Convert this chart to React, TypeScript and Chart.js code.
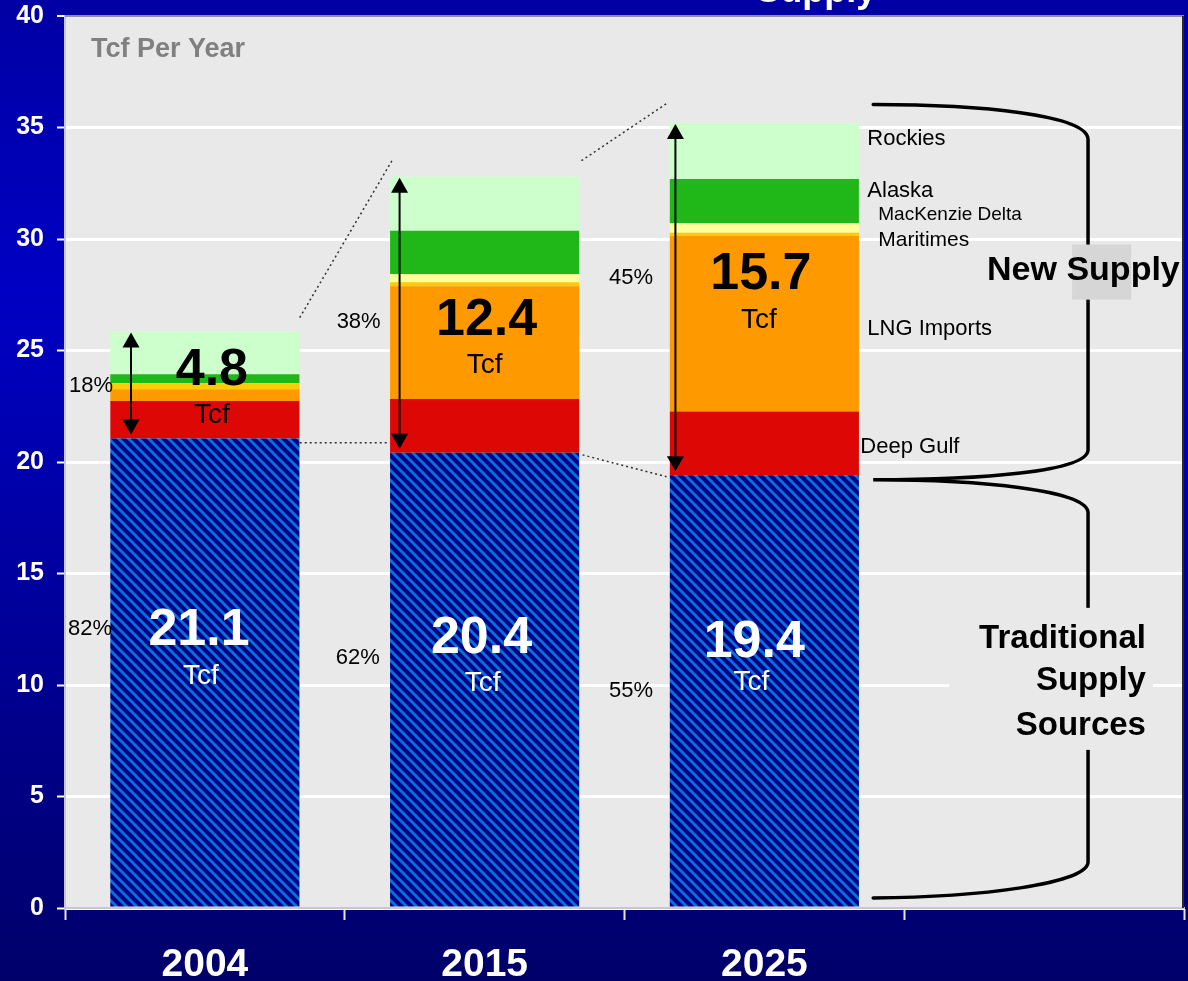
import React, { useEffect, useRef } from 'react';
import { Chart, registerables } from 'chart.js';

Chart.register(...registerables);

// ---------- data ----------
const categories = ['2004', '2015', '2025', ''];
const traditional = [21.05, 20.42, 19.41];
const deepGulf = [1.68, 2.4, 2.86];
const lngImports = [0.53, 5.06, 7.87];
const maritimes = [0.27, 0.18, 0.14];
const mackenzieDelta = [0, 0.36, 0.43];
const alaska = [0.4, 1.95, 1.98];
const rockies = [1.92, 2.42, 2.51];

const yMin = 0;
const yMax = 40;
const yStep = 5;

const newSupplyLabels = ['4.8', '12.4', '15.7'];
const tradSupplyLabels = ['21.1', '20.4', '19.4'];
const newSharePct = ['18%', '38%', '45%'];
const tradSharePct = ['82%', '62%', '55%'];
const sourceNames = ['Rockies', 'Alaska', 'MacKenzie Delta', 'Maritimes', 'LNG Imports', 'Deep Gulf'];
const unitLabel = 'Tcf';
const axisTitle = 'Tcf Per Year';
const newSupplyTitle = 'New Supply';
const tradSupplyTitle = ['Traditional', 'Supply', 'Sources'];
const clippedTitle = 'Supply';

// ---------- layout (category units, value units) ----------
const POS = {
  newNum: [[0.025, 23.47], [1.007, 25.71], [1.9875, 27.77]],
  newTcf: [[0.025, 21.76], [1.0, 24.0], [1.98, 26.02]],
  tradNum: [[-0.021, 11.8], [0.989, 11.44], [1.964, 11.26]],
  tradTcf: [[-0.014, 10.05], [0.993, 9.74], [1.954, 9.78]],
  newPct: [[-0.486, 23.15], [0.471, 26.02], [1.445, 28.0]],
  tradPct: [[-0.489, 12.25], [0.468, 10.95], [1.445, 9.47]],
  sources: [[2.368, 34.23, 22], [2.368, 31.9, 22], [2.407, 30.87, 19], [2.407, 29.7, 21], [2.368, 25.71, 22], [2.343, 20.41, 22]],
  arrowX: [-0.264, 0.696, 1.682],
  dotted: [
    [[0.339, 26.47], [0.671, 33.56]],
    [[0.339, 20.86], [0.661, 20.86]],
    [[1.346, 33.51], [1.65, 36.07]],
    [[1.35, 20.32], [1.65, 19.34]],
  ],
  axisTitle: [-0.407, 38.14],
  newTitle: [2.796, 28.18],
  newBox: [3.1, 29.75, 3.311, 27.28],
  tradTitleX: 3.364,
  tradTitleY: [11.67, 9.78, 7.76],
  tradBox: [2.661, 13.46, 3.389, 7.09],
};

const FONT = "'Liberation Sans', Arial, Helvetica, sans-serif";
const PLOT_BG = '#E9E9E9';

function makeHatch(): CanvasPattern | string {
  const s = 10;
  const c = document.createElement('canvas');
  c.width = s;
  c.height = s;
  const g = c.getContext('2d');
  if (!g) return '#000088';
  g.fillStyle = '#000084';
  g.fillRect(0, 0, s, s);
  g.strokeStyle = '#0870DE';
  g.lineWidth = 3.0;
  for (let k = -2; k <= 2; k++) {
    g.beginPath();
    g.moveTo(k * s - 3, -3);
    g.lineTo(k * s + s + 3, s + 3);
    g.stroke();
  }
  const p = g.createPattern(c, 'repeat');
  return p || '#000088';
}

const bgPlugin = {
  id: 'bgPlugin',
  beforeDraw(chart: any) {
    const { ctx, width, height, chartArea } = chart;
    ctx.save();
    const grd = ctx.createLinearGradient(0, 0, 0, height);
    grd.addColorStop(0, '#0000A4');
    grd.addColorStop(0.3, '#0000C4');
    grd.addColorStop(1, '#00006A');
    ctx.fillStyle = grd;
    ctx.fillRect(0, 0, width, height);
    ctx.fillStyle = PLOT_BG;
    ctx.fillRect(chartArea.left, chartArea.top, chartArea.right - chartArea.left, chartArea.bottom - chartArea.top);
    // clipped slide title at the very top
    const x2 = chart.scales.x.getPixelForValue(2.4);
    ctx.font = `bold 36px ${FONT}`;
    ctx.fillStyle = '#FFFFFF';
    ctx.textAlign = 'right';
    ctx.textBaseline = 'alphabetic';
    ctx.fillText(clippedTitle, x2, 2);
    ctx.restore();
  },
};

const annotPlugin = {
  id: 'annotPlugin',
  afterDatasetsDraw(chart: any) {
    const { ctx, chartArea } = chart;
    const xs = chart.scales.x;
    const ys = chart.scales.y;
    const X = (c: number) => xs.getPixelForValue(c);
    const Y = (v: number) => ys.getPixelForValue(v);
    ctx.save();

    // plot border (top & right)
    ctx.strokeStyle = '#8E8EA6';
    ctx.lineWidth = 2;
    ctx.beginPath();
    ctx.moveTo(chartArea.left, chartArea.top);
    ctx.lineTo(chartArea.right, chartArea.top);
    ctx.stroke();
    ctx.strokeStyle = '#2A2A2A';
    ctx.beginPath();
    ctx.moveTo(chartArea.right - 1, chartArea.top);
    ctx.lineTo(chartArea.right - 1, chartArea.bottom);
    ctx.stroke();

    // dotted connectors
    ctx.strokeStyle = '#303030';
    ctx.lineWidth = 1.5;
    ctx.setLineDash([2, 3]);
    POS.dotted.forEach(([a, b]) => {
      ctx.beginPath();
      ctx.moveTo(X(a[0]), Y(a[1]));
      ctx.lineTo(X(b[0]), Y(b[1]));
      ctx.stroke();
    });
    ctx.setLineDash([]);

    // double arrows
    const totals = traditional.map((t, i) => t + deepGulf[i] + lngImports[i] + maritimes[i] + mackenzieDelta[i] + alaska[i] + rockies[i]);
    ctx.strokeStyle = '#000';
    ctx.fillStyle = '#000';
    POS.arrowX.forEach((ax, i) => {
      const x = X(ax);
      const y1 = Y(totals[i]) + 1;
      const y2 = Y(traditional[i]) - 4;
      const hl = 15;
      const hw = 8.5;
      ctx.lineWidth = 2;
      ctx.beginPath();
      ctx.moveTo(x, y1 + hl - 2);
      ctx.lineTo(x, y2 - hl + 2);
      ctx.stroke();
      ctx.beginPath();
      ctx.moveTo(x, y1);
      ctx.lineTo(x - hw, y1 + hl);
      ctx.lineTo(x + hw, y1 + hl);
      ctx.closePath();
      ctx.fill();
      ctx.beginPath();
      ctx.moveTo(x, y2);
      ctx.lineTo(x - hw, y2 - hl);
      ctx.lineTo(x + hw, y2 - hl);
      ctx.closePath();
      ctx.fill();
    });

    // braces
    ctx.strokeStyle = '#000';
    ctx.lineWidth = 3.5;
    ctx.lineCap = 'round';
    const b0 = 2.389;
    const bv = 3.157;
    const bm = 2.768;
    ctx.beginPath();
    ctx.moveTo(X(b0), Y(36.03));
    ctx.bezierCurveTo(X(bm), Y(36.03), X(bv), Y(35.58), X(bv), Y(34.46));
    ctx.lineTo(X(bv), Y(29.75));
    ctx.moveTo(X(bv), Y(27.28));
    ctx.lineTo(X(bv), Y(20.55));
    ctx.bezierCurveTo(X(bv), Y(19.56), X(bm), Y(19.2), X(b0), Y(19.2));
    ctx.bezierCurveTo(X(bm), Y(19.2), X(bv), Y(18.76), X(bv), Y(17.72));
    ctx.lineTo(X(bv), Y(13.46));
    ctx.moveTo(X(bv), Y(7.09));
    ctx.lineTo(X(bv), Y(2.06));
    ctx.bezierCurveTo(X(bv), Y(1.08), X(bm), Y(0.49), X(b0), Y(0.45));
    ctx.stroke();

    // text boxes
    ctx.fillStyle = PLOT_BG;
    const tb = POS.tradBox;
    ctx.fillRect(X(tb[0]), Y(tb[1]), X(tb[2]) - X(tb[0]), Y(tb[3]) - Y(tb[1]));
    ctx.fillStyle = '#D6D6D6';
    const nb = POS.newBox;
    ctx.fillRect(X(nb[0]), Y(nb[1]), X(nb[2]) - X(nb[0]), Y(nb[3]) - Y(nb[1]));

    const txt = (s: string, c: number, v: number, font: string, color: string, align: CanvasTextAlign) => {
      ctx.font = font;
      ctx.fillStyle = color;
      ctx.textAlign = align;
      ctx.textBaseline = 'alphabetic';
      ctx.fillText(s, X(c), Y(v));
    };

    txt(axisTitle, POS.axisTitle[0], POS.axisTitle[1], `bold 27px ${FONT}`, '#808080', 'left');

    newSupplyLabels.forEach((s, i) => {
      txt(s, POS.newNum[i][0], POS.newNum[i][1], `bold 52px ${FONT}`, '#000', 'center');
      txt(unitLabel, POS.newTcf[i][0], POS.newTcf[i][1], `28px ${FONT}`, '#000', 'center');
    });
    tradSupplyLabels.forEach((s, i) => {
      txt(s, POS.tradNum[i][0], POS.tradNum[i][1], `bold 52px ${FONT}`, '#FFF', 'center');
      txt(unitLabel, POS.tradTcf[i][0], POS.tradTcf[i][1], `28px ${FONT}`, '#FFF', 'center');
    });
    newSharePct.forEach((s, i) => txt(s, POS.newPct[i][0], POS.newPct[i][1], `22px ${FONT}`, '#000', 'left'));
    tradSharePct.forEach((s, i) => txt(s, POS.tradPct[i][0], POS.tradPct[i][1], `22px ${FONT}`, '#000', 'left'));
    sourceNames.forEach((s, i) => {
      const p = POS.sources[i];
      txt(s, p[0], p[1], `${p[2]}px ${FONT}`, '#000', 'left');
    });

    txt(newSupplyTitle, POS.newTitle[0], POS.newTitle[1], `bold 34px ${FONT}`, '#000', 'left');
    tradSupplyTitle.forEach((s, i) => txt(s, POS.tradTitleX, POS.tradTitleY[i], `bold 33px ${FONT}`, '#000', 'right'));

    ctx.restore();
  },
};

export default function App() {
  const ref = useRef<HTMLCanvasElement | null>(null);

  useEffect(() => {
    document.body.style.margin = '0';
    const canvas = ref.current;
    if (!canvas) return;
    const hatch = makeHatch();
    const ds = (label: string, data: number[], color: any) => ({
      label,
      data,
      backgroundColor: color,
      borderWidth: 0,
      categoryPercentage: 1,
      barPercentage: 0.676,
    });
    const chart = new Chart(canvas, {
      type: 'bar',
      data: {
        labels: categories,
        datasets: [
          ds('Traditional Supply Sources', traditional, hatch),
          ds('Deep Gulf', deepGulf, '#DD0806'),
          ds('LNG Imports', lngImports, '#FF9900'),
          ds('Maritimes', maritimes, '#FFCC00'),
          ds('MacKenzie Delta', mackenzieDelta, '#FFFF99'),
          ds('Alaska', alaska, '#20B818'),
          ds('Rockies', rockies, '#CCFFCC'),
        ],
      },
      options: {
        responsive: false,
        animation: false,
        devicePixelRatio: 1,
        layout: { padding: { top: 16, right: 4, left: 0, bottom: 0 } },
        plugins: {
          legend: { display: false },
          tooltip: { enabled: false },
        },
        scales: {
          x: {
            stacked: true,
            grid: {
              drawOnChartArea: false,
              drawTicks: true,
              tickLength: 12,
              tickColor: '#E4E4E4',
              tickWidth: 2,
            },
            border: { display: true, color: '#C8C8C8', width: 2 },
            ticks: {
              color: '#FFFFFF',
              font: { family: FONT, size: 39, weight: 'bold' },
              padding: 22,
              maxRotation: 0,
              autoSkip: false,
            },
            afterFit: (s: any) => {
              s.height = 73;
            },
          },
          y: {
            stacked: true,
            min: yMin,
            max: yMax,
            ticks: {
              stepSize: yStep,
              color: '#FFFFFF',
              font: { family: FONT, size: 25, weight: 'bold' },
              padding: 13,
            },
            grid: {
              color: (c: any) => (c.tick && c.tick.value === yMax ? '#8E8EA6' : '#FFFFFF'),
              lineWidth: (c: any) => (c.tick && c.tick.value === yMax ? 2 : 3),
              tickColor: '#FFFFFF',
              tickLength: 8,
              tickWidth: 2,
            },
            border: { display: true, color: '#C8C8C8', width: 2 },
            afterFit: (s: any) => {
              s.width = 65;
              s.paddingTop = 0;
              s.paddingBottom = 0;
            },
          },
        },
      } as any,
      plugins: [bgPlugin, annotPlugin],
    });
    return () => chart.destroy();
  }, []);

  return <canvas ref={ref} width={1188} height={981} style={{ display: 'block' }} />;
}
